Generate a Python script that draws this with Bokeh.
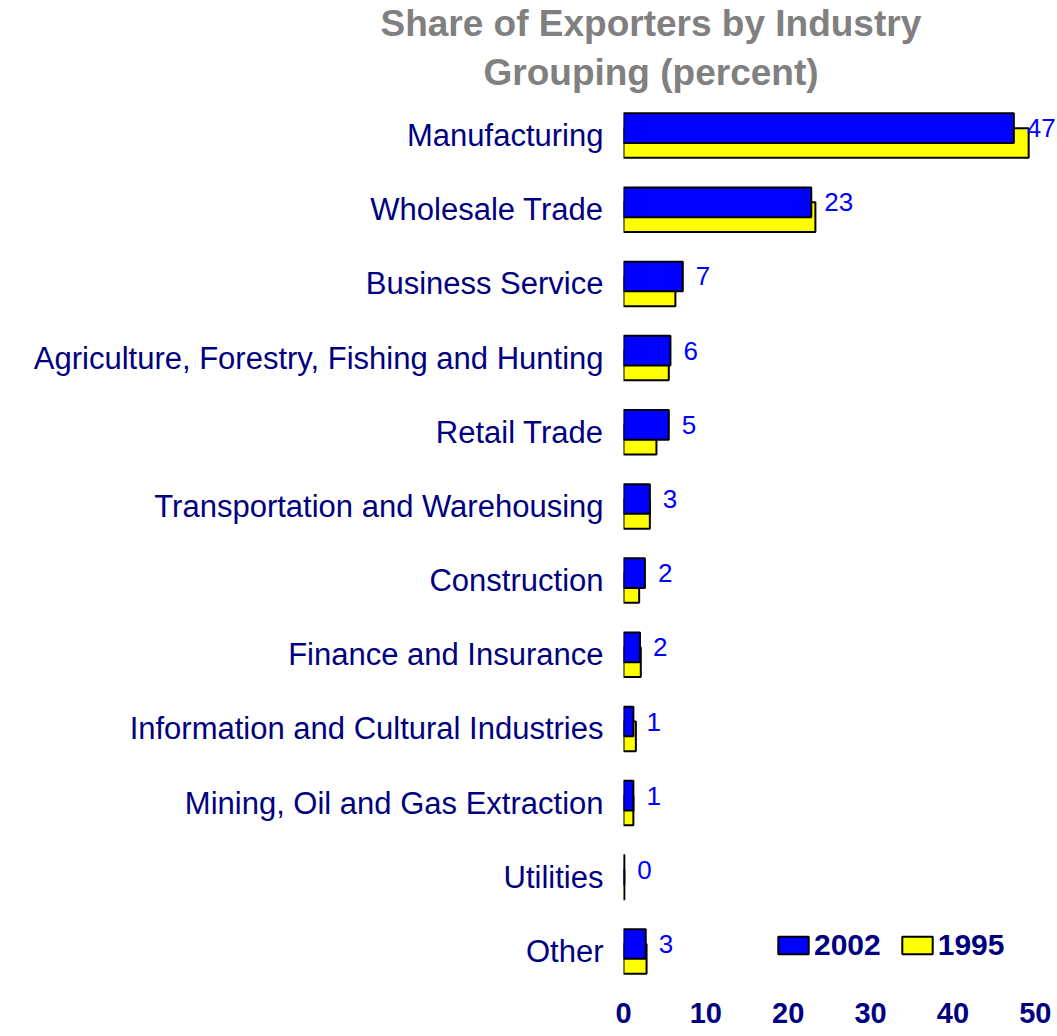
from bokeh.plotting import figure
from bokeh.models import ColumnDataSource, FactorRange, Range1d, FixedTicker, Legend, LegendItem, Title
from bokeh.transform import dodge
from bokeh.core.properties import value
from bokeh.embed import file_html
from bokeh.resources import INLINE

categories = [
    "Manufacturing",
    "Wholesale Trade",
    "Business Service",
    "Agriculture, Forestry, Fishing and Hunting",
    "Retail Trade",
    "Transportation and Warehousing",
    "Construction",
    "Finance and Insurance",
    "Information and Cultural Industries",
    "Mining, Oil and Gas Extraction",
    "Utilities",
    "Other",
]
share_2002 = [47.4, 22.8, 7.2, 5.7, 5.5, 3.2, 2.6, 2.0, 1.2, 1.2, 0.1, 2.7]
share_1995 = [49.2, 23.3, 6.3, 5.5, 4.0, 3.2, 1.9, 2.1, 1.5, 1.2, 0.1, 2.8]
labels_2002 = ["47", "23", "7", "6", "5", "3", "2", "2", "1", "1", "0", "3"]
x_ticks = [0, 10, 20, 30, 40, 50]
series_names = ["2002", "1995"]
title_lines = ["Share of Exporters by Industry", "Grouping (percent)"]

FONT = "Liberation Sans"
NAVY = "#000080"

source = ColumnDataSource(dict(cat=categories, v2002=share_2002, v1995=share_1995, lab=labels_2002))

p = figure(
    width=1057, height=1036,
    y_range=FactorRange(*list(reversed(categories)), range_padding=0),
    x_range=Range1d(0, 52.7),
    output_backend="svg", toolbar_location=None,
    min_border_left=623, min_border_right=0, min_border_top=95, min_border_bottom=48,
)
p.outline_line_color = None
p.xgrid.visible = False
p.ygrid.visible = False
p.background_fill_color = "white"
p.border_fill_color = "white"

r95 = p.hbar(y=dodge("cat", -0.1, range=p.y_range), right="v1995", left=0, height=0.4,
             source=source, fill_color="#FFFF00", line_color="black", line_width=2)
r02 = p.hbar(y=dodge("cat", 0.1, range=p.y_range), right="v2002", left=0, height=0.4,
             source=source, fill_color="#0000FF", line_color="black", line_width=2)

p.text(x="v2002", y=dodge("cat", 0.1, range=p.y_range), text="lab", source=source,
       x_offset=13, text_baseline="middle", text_align="left",
       text_font=value(FONT), text_font_size="26px", text_color="#0000FF")

# axes
p.xaxis.ticker = FixedTicker(ticks=x_ticks)
p.xaxis.axis_line_color = None
p.xaxis.major_tick_line_color = None
p.xaxis.minor_tick_line_color = None
p.xaxis.major_label_text_font = FONT
p.xaxis.major_label_text_font_style = "bold"
p.xaxis.major_label_text_font_size = "29px"
p.xaxis.major_label_text_color = NAVY
p.xaxis.major_label_standoff = 8

p.yaxis.axis_line_color = None
p.yaxis.major_tick_line_color = None
p.yaxis.minor_tick_line_color = None
p.yaxis.major_label_text_font = FONT
p.yaxis.major_label_text_font_size = "31px"
p.yaxis.major_label_text_color = NAVY
p.yaxis.major_label_standoff = 14

# title (two lines, each centred on x ~ 650)
p.title.text = ""
p.title.standoff = 0
t2 = Title(text=title_lines[1], align="left", offset=-140, text_font=FONT,
           text_font_style="bold", text_font_size="37px", text_color="#808080", standoff=12)
t1 = Title(text=title_lines[0], align="left", offset=-243, text_font=FONT,
           text_font_style="bold", text_font_size="37px", text_color="#808080", standoff=0)
p.add_layout(t2, "above")
p.add_layout(t1, "above")

legend = Legend(items=[LegendItem(label=series_names[0], renderers=[r02]),
                       LegendItem(label=series_names[1], renderers=[r95])],
                location=(151, 26), orientation="horizontal",
                glyph_width=38, glyph_height=22, label_standoff=2, spacing=17,
                padding=0, margin=0,
                label_text_font=FONT, label_text_font_style="bold",
                label_text_font_size="30px", label_text_color=NAVY,
                border_line_color=None, background_fill_alpha=0)
p.add_layout(legend, "center")

open("out.html", "w").write(file_html(p, INLINE))
